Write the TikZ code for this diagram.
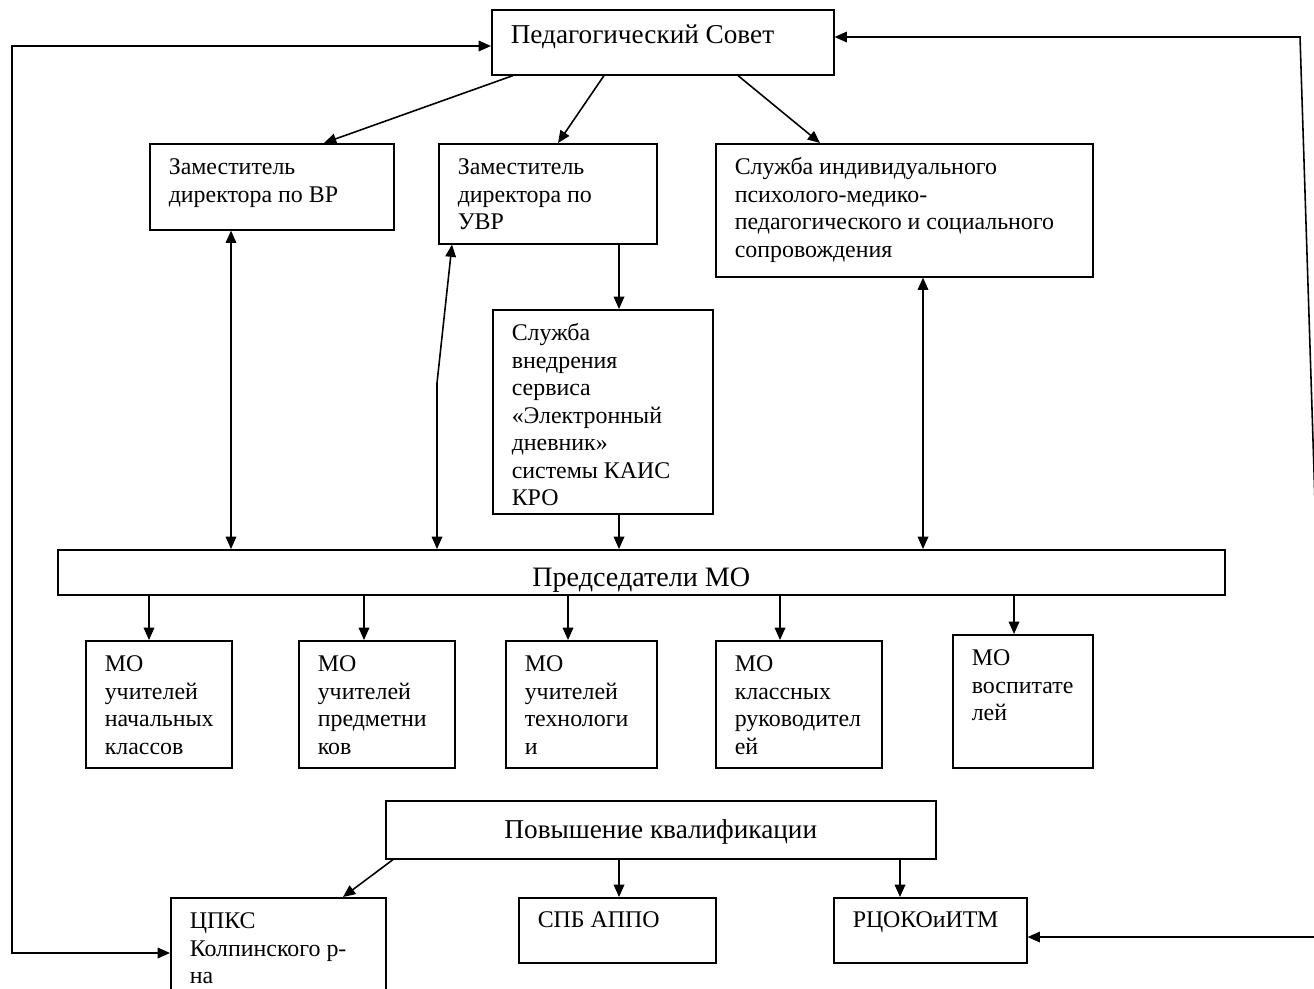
\documentclass[tikz,border=0pt]{standalone}
\usepackage{fontspec}
\setmainfont{Liberation Serif}
\usetikzlibrary{positioning,calc,arrows.meta}

\newdimen\pxu \pxu=0.02cm
% box text: [top gap]{width}{height}{lines}
\newcommand\blk[4][12]{\parbox[c][#3\pxu][t]{#2\pxu}{\leftskip=19\pxu\vspace*{#1\pxu}\strut #4}}

\tikzset{
  blok/.style={draw, line width=0.9pt, inner sep=0pt, anchor=north west,
    font=\fontsize{13.6}{15.6}\selectfont},
  big/.style={font=\fontsize{15.5}{17}\selectfont},
  arr/.style={line width=0.9pt, -{Triangle[length=7pt,width=6pt]}},
  arr2/.style={line width=0.9pt, {Triangle[length=7pt,width=6pt]}-{Triangle[length=7pt,width=6pt]}}
}

\begin{document}
\begin{tikzpicture}[x=0.02cm,y=-0.02cm]
  \clip (0,0) rectangle (1314,988);
  \fill[white] (0,0) rectangle (1314,988);

  \node[blok,big](sovet) at (491,9) {\blk[13]{342}{65}{Педагогический Совет}};
  \node[blok](zvr) at (149,143) {\blk{244}{86}{Заместитель\\директора по ВР}};
  \node[blok](zuvr) at (438,143) {\blk{218}{100}{Заместитель\\директора по\\УВР}};
  \node[blok](sipms) at (715,143) {\blk{377}{133}{Служба индивидуального\\психолого-медико-\\педагогического и социального\\сопровождения}};
  \node[blok](ssluzh) at (492,309) {\blk{220}{204}{Служба\\внедрения\\сервиса\\«Электронный\\дневник»\\системы КАИС\\КРО}};
  \node[blok,font=\fontsize{16}{18}\selectfont](pred) at (57,549) {\blk[15]{1167}{45}{\centering Председатели МО}};

  \node[blok](mo1) at (85,640) {\blk{146}{127}{МО\\учителей\\начальных\\классов}};
  \node[blok](mo2) at (298,640) {\blk{156}{127}{МО\\учителей\\предметни\\ков}};
  \node[blok](mo3) at (505,640) {\blk{151}{127}{МО\\учителей\\технологи\\и}};
  \node[blok](mo4) at (715,640) {\blk{166}{127}{МО\\классных\\руководител\\ей}};
  \node[blok](mo5) at (952,634) {\blk{140}{133}{МО\\воспитате\\лей}};

  \node[blok,big](pov) at (385,800) {\blk[17]{550}{58}{\centering Повышение квалификации}};
  \node[blok](cpks) at (170,897) {\blk{215}{100}{ЦПКС\\Колпинского р-\\на}};
  \node[blok](spb) at (518,897) {\blk[11]{197}{65}{СПБ АППО}};
  \node[blok](rcoko) at (833,897) {\blk[11]{193}{65}{РЦОКОиИТМ}};

  \coordinate (lft) at (12,500);
  \coordinate (rtop) at (1300,37);
  \coordinate (rbot) at (1329,937);

  \draw[arr] ($(sovet.south west)+(22,0)$) -- ($(zvr.north west)+(175,0)$);
  \draw[arr] ($(sovet.south west)+(113,0)$) -- ($(zuvr.north west)+(120,0)$);
  \draw[arr] ($(sovet.south west)+(247,0)$) -- ($(sipms.north west)+(105,0)$);

  \draw[arr2] ($(pred.north west)+(174,0)$) -- ($(zvr.south west)+(82,0)$);
  \draw[arr2] ($(pred.north west)+(380,0)$) -- ++(0,-166) -- ($(zuvr.south west)+(14,0)$);
  \draw[arr] ($(zuvr.south west)+(181,0)$) -- ($(ssluzh.north west)+(127,0)$);
  \draw[arr] ($(ssluzh.south west)+(127,0)$) -- ($(pred.north west)+(562,0)$);
  \draw[arr2] ($(pred.north west)+(866,0)$) -- ($(sipms.south west)+(208,0)$);

  \foreach \m/\dx/\ex in {mo1/92/64, mo2/307/66, mo3/511/63, mo4/723/65, mo5/957/62}
    \draw[arr] ($(pred.south west)+(\dx,0)$) -- ($(\m.north west)+(\ex,0)$);

  \draw[arr] ($(pov.south west)+(8,0)$) -- ($(cpks.north west)+(173,0)$);
  \draw[arr] ($(pov.south west)+(234,0)$) -- ($(spb.north west)+(101,0)$);
  \draw[arr] ($(pov.south west)+(515,0)$) -- ($(rcoko.north west)+(67,0)$);

  \draw[arr2] ($(sovet.north west)+(0,37)$) -| (lft) |- ($(cpks.north west)+(0,56)$);
  \draw[arr2] ($(sovet.north east)+(0,28)$) -- (rtop) -- (rbot) -- ($(rcoko.north east)+(0,40)$);
\end{tikzpicture}
\end{document}
